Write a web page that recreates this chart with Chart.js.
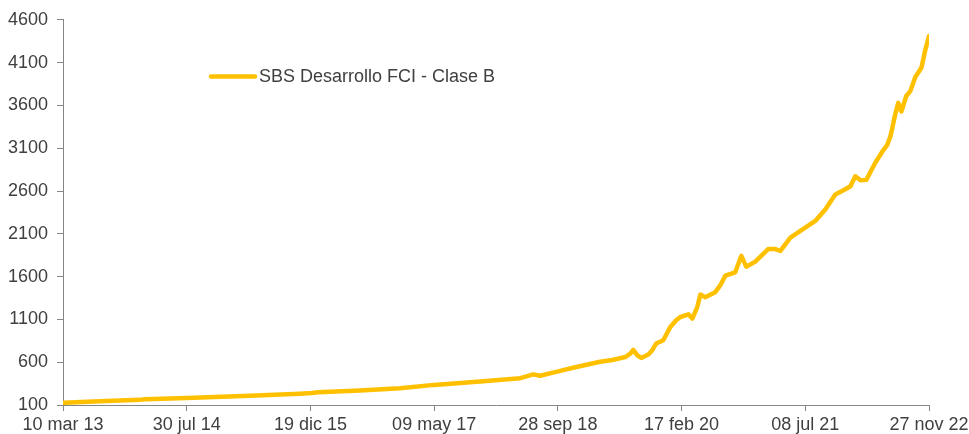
<!DOCTYPE html>
<html>
<head>
<meta charset="utf-8">
<script src="https://cdn.jsdelivr.net/npm/chart.js@4"></script>
<style>
  body { margin: 0; background: #fff; }
  #wrap { width: 969px; height: 434px; }
</style>
</head>
<body>
<div id="wrap"><canvas id="myChart"></canvas></div>
<script>
// datos (dias desde 10 mar 13)
const dias = [0, 151, 315, 335, 507, 766, 971, 1020, 1045, 1217, 1381, 1521, 1709, 1874, 1927, 1955,
  2025, 2099, 2201, 2251, 2304, 2325, 2337, 2354, 2370, 2399, 2415, 2431, 2460, 2489, 2513, 2530,
  2563, 2579, 2600, 2612, 2632, 2673, 2694, 2714, 2755, 2780, 2800, 2837, 2890, 2919, 2940, 2981,
  3022, 3083, 3124, 3165, 3206, 3227, 3247, 3268, 3292, 3329, 3358, 3378, 3391, 3411, 3423, 3436,
  3456, 3473, 3493, 3518, 3534, 3549];
const valores = [125, 145, 160, 168, 181, 208, 232, 239, 248, 268, 295, 335, 374, 413, 458, 442,
  490, 541, 606, 625, 660, 700, 745, 680, 650, 690, 740, 819, 857, 1012, 1090, 1128,
  1160, 1110, 1250, 1390, 1360, 1418, 1500, 1611, 1650, 1843, 1716, 1775, 1921, 1921, 1900, 2056,
  2133, 2250, 2385, 2559, 2620, 2656, 2772, 2725, 2730, 2930, 3062, 3139, 3240, 3500, 3630, 3530,
  3710, 3770, 3932, 4040, 4250, 4410];
const etiquetas = ['10 mar 13', '30 jul 14', '19 dic 15', '09 may 17', '28 sep 18', '17 feb 20', '08 jul 21', '27 nov 22'];
const nombre = 'SBS Desarrollo FCI - Clase B';

const amarillo = '#FFC000';
const gris = '#868686';
const texto = '#404040';

const puntos = [];
for (i = 0; i < dias.length; i++) {
  puntos.push({ x: dias[i], y: valores[i] });
}

// leyenda dentro del grafico
const leyenda = {
  id: 'leyenda',
  afterDraw(chart) {
    const c = chart.ctx;
    const ds = chart.data.datasets[0];
    c.save();
    c.strokeStyle = ds.borderColor;
    c.lineWidth = 4.5;
    c.lineCap = 'round';
    c.beginPath();
    c.moveTo(211, 76.5);
    c.lineTo(255, 76.5);
    c.stroke();
    c.fillStyle = texto;
    c.font = '18px "Liberation Sans", Arial, sans-serif';
    c.textBaseline = 'middle';
    c.fillText(ds.label, 259, 77);
    c.restore();
  }
};

const ctx = document.getElementById('myChart');

new Chart(ctx, {
  type: 'line',
  data: {
    datasets: [{
      label: nombre,
      data: puntos,
      borderColor: amarillo,
      borderWidth: 4.5,
      pointRadius: 0,
      tension: 0,
      borderJoinStyle: 'round',
      borderCapStyle: 'round'
    }]
  },
  options: {
    responsive: true,
    maintainAspectRatio: false,
    animation: false,
    layout: { padding: { top: 17, right: 40, left: 0, bottom: 0 } },
    plugins: {
      legend: { display: false },
      tooltip: { enabled: false }
    },
    scales: {
      x: {
        type: 'linear',
        min: 0,
        max: 3549,
        afterFit: (axis) => { axis.height = 29; axis.paddingRight = 38; },
        ticks: {
          stepSize: 507,
          autoSkip: false,
          maxRotation: 0,
          padding: 3,
          color: texto,
          font: { size: 18, family: '"Liberation Sans", Arial, sans-serif' },
          callback: (v, i) => etiquetas[i]
        },
        grid: { drawOnChartArea: false, color: gris, tickLength: 6 },
        border: { color: gris, width: 1 }
      },
      y: {
        min: 100,
        max: 4600,
        afterFit: (axis) => { axis.width = 63; },
        ticks: {
          stepSize: 500,
          padding: 9,
          color: texto,
          font: { size: 18, family: '"Liberation Sans", Arial, sans-serif' },
          callback: (v) => String(v)
        },
        grid: { drawOnChartArea: false, color: gris, tickLength: 6 },
        border: { color: gris, width: 1 }
      }
    }
  },
  plugins: [leyenda]
});
</script>
</body>
</html>
